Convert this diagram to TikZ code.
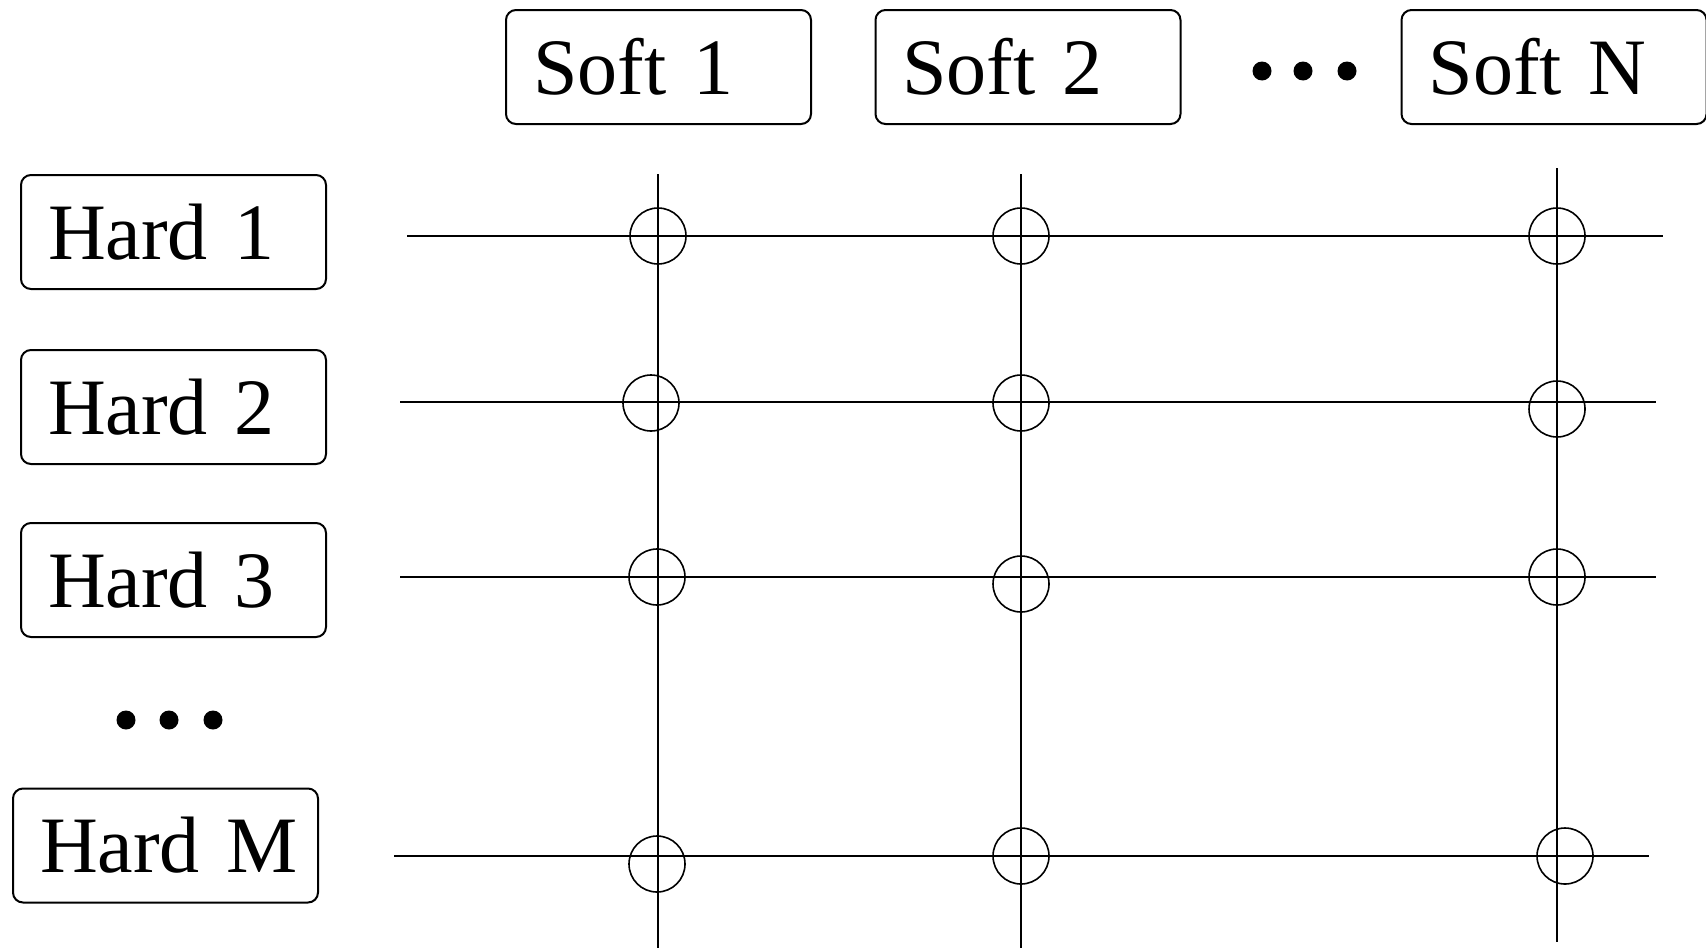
\documentclass[tikz,border=0pt]{standalone}
\usepackage{fontspec}
\setmainfont{Liberation Serif}
\begin{document}
\begin{tikzpicture}[x=0.5pt,y=-0.5pt,
  lbl/.style={draw,line width=1pt,rounded corners=5pt,text width=125.5pt,inner xsep=13.5pt,inner ysep=0pt,minimum height=57pt,align=left,font=\fontsize{40}{48}\selectfont},
  gridline/.style={line width=1pt},
  ring/.style={draw,circle,line width=0.8pt,minimum size=28pt,inner sep=0pt},
  bigdot/.style={fill,circle,minimum size=9.5pt,inner sep=0pt}]
\useasboundingbox (0,0) rectangle (1706,948);
% top labels
\node[lbl] (s1) at (658.5,67) {Soft~1};
\node[lbl] (s2) at (1028,67) {Soft~2};
\node[lbl] (sN) at (1554,67) {Soft~N};
\node[bigdot] (td1) at (1262,71) {};
\node[bigdot] (td2) at (1303,71) {};
\node[bigdot] (td3) at (1347,71) {};
% left labels
\node[lbl] (h1) at (173.5,232) {Hard~1};
\node[lbl] (h2) at (173.5,407) {Hard~2};
\node[lbl] (h3) at (173.5,580) {Hard~3};
\node[lbl] (hM) at (165.5,845.5) {Hard~M};
\node[bigdot] (ld1) at (126,720) {};
\node[bigdot] (ld2) at (169,720) {};
\node[bigdot] (ld3) at (213,720) {};
% line ends
\coordinate (r1a) at (407,236); \coordinate (r1b) at (1663,236);
\coordinate (r2a) at (400,402); \coordinate (r2b) at (1656,402);
\coordinate (r3a) at (400,577); \coordinate (r3b) at (1656,577);
\coordinate (rMa) at (394,856); \coordinate (rMb) at (1649,856);
\coordinate (c1a) at (658,174); \coordinate (c1b) at (658,948);
\coordinate (c2a) at (1021,174); \coordinate (c2b) at (1021,948);
\coordinate (cNa) at (1557,168); \coordinate (cNb) at (1557,942);
\draw[gridline] (r1a) -- (r1b);
\draw[gridline] (r2a) -- (r2b);
\draw[gridline] (r3a) -- (r3b);
\draw[gridline] (rMa) -- (rMb);
\draw[gridline] (c1a) -- (c1b);
\draw[gridline] (c2a) -- (c2b);
\draw[gridline] (cNa) -- (cNb);
% rings
\node[ring] (k11) at (658,236) {};
\node[ring] (k12) at (1021,236) {};
\node[ring] (k1N) at (1557,236) {};
\node[ring] (k21) at (651,403) {};
\node[ring] (k22) at (1021,403) {};
\node[ring] (k2N) at (1557,409) {};
\node[ring] (k31) at (657,577) {};
\node[ring] (k32) at (1021,584) {};
\node[ring] (k3N) at (1557,577) {};
\node[ring] (kM1) at (657,864) {};
\node[ring] (kM2) at (1021,856) {};
\node[ring] (kMN) at (1565,856) {};
\end{tikzpicture}
\end{document}
